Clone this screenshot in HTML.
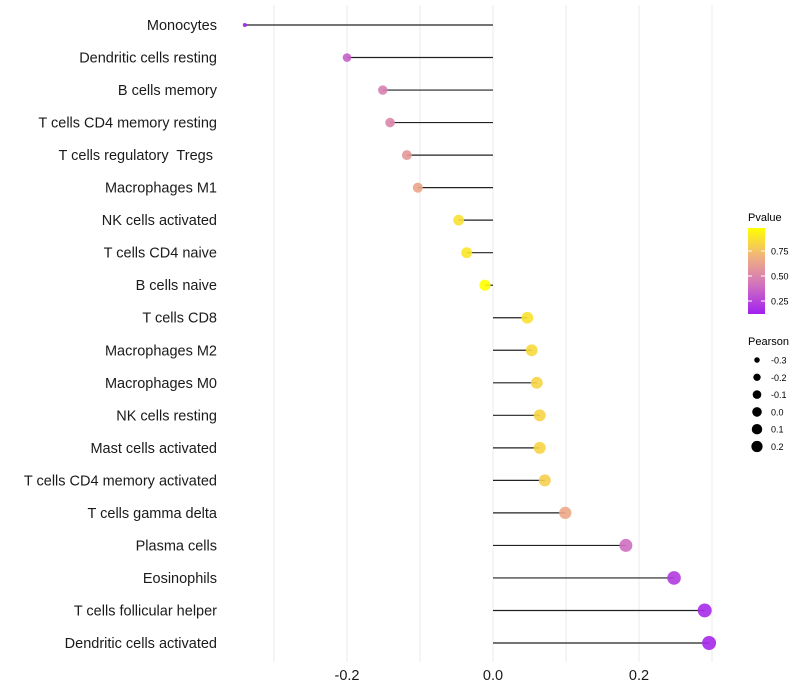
<!DOCTYPE html>
<html><head><meta charset="utf-8"><style>
body{margin:0;background:#fff;font-family:"Liberation Sans",sans-serif}
svg{display:block}
text{white-space:pre}
</style></head><body>
<svg id="chart" width="800" height="700"></svg>
<script>
const categories=["Monocytes","Dendritic cells resting","B cells memory","T cells CD4 memory resting","T cells regulatory  Tregs ","Macrophages M1","NK cells activated","T cells CD4 naive","B cells naive","T cells CD8","Macrophages M2","Macrophages M0","NK cells resting","Mast cells activated","T cells CD4 memory activated","T cells gamma delta","Plasma cells","Eosinophils","T cells follicular helper","Dendritic cells activated"];
const pearson=[-0.340,-0.200,-0.151,-0.141,-0.118,-0.103,-0.047,-0.036,-0.011,0.047,0.053,0.060,0.064,0.064,0.071,0.099,0.182,0.248,0.290,0.296];
const pvalue=[0.12,0.35,0.47,0.50,0.58,0.64,0.86,0.89,0.98,0.87,0.84,0.82,0.82,0.82,0.80,0.65,0.40,0.22,0.16,0.15];
const xTicks=[-0.2,0.0,0.2];
const xGrid=[-0.3,-0.2,-0.1,0,0.1,0.2,0.3];
const legendP=[0.75,0.50,0.25];
const legendR=[-0.3,-0.2,-0.1,0.0,0.1,0.2];
const NS="http://www.w3.org/2000/svg";
const svg=document.getElementById('chart');
function el(t,a,p){const e=document.createElementNS(NS,t);for(const k in a)e.setAttribute(k,a[k]);(p||svg).appendChild(e);return e;}
const x=v=>493+v*730;
const y=i=>25+i*(618/19);
const pMin=0.12,pMax=0.98;
const stops=[[0,[160,32,240]],[0.33,[208,112,192]],[0.66,[240,176,128]],[1,[255,255,0]]];
function col(p){let t=(p-pMin)/(pMax-pMin);t=Math.max(0,Math.min(1,t));for(let i=1;i<stops.length;i++){if(t<=stops[i][0]){const a=stops[i-1],b=stops[i];const f=(t-a[0])/(b[0]-a[0]);const c=a[1].map((v,j)=>Math.round(v+(b[1][j]-v)*f));return `rgb(${c})`;}}return 'rgb(255,255,0)';}
const rad=v=>2+5*Math.sqrt(Math.max(0,(v+0.34)/0.64));
xGrid.forEach(v=>{const g=el('line',{x1:x(v),x2:x(v),y1:5,y2:662,stroke:'#ebebeb','stroke-width':1});

});
categories.forEach((c,i)=>{
const t=el('text',{x:217,y:y(i)+5,'text-anchor':'end','font-size':14.5,fill:'#1a1a1a'});t.textContent=c;


const l=el('line',{x1:x(0),x2:x(pearson[i]),y1:y(i),y2:y(i),stroke:'#222','stroke-width':1.2});


const d=el('circle',{cx:x(pearson[i]),cy:y(i),r:rad(pearson[i]),fill:col(pvalue[i]),'fill-opacity':0.9});


});
xTicks.forEach(v=>{const t=el('text',{x:x(v),y:680,'text-anchor':'middle','font-size':14.5,fill:'#1a1a1a'});t.textContent=v.toFixed(1);

});
const lt=el('text',{x:748,y:221,'font-size':11});lt.textContent='Pvalue';


const defs=el('defs',{});const lg=el('linearGradient',{id:'gr',x1:0,y1:1,x2:0,y2:0},defs);
stops.forEach(s=>el('stop',{offset:s[0],'stop-color':`rgb(${s[1]})`},lg));
const cb=el('rect',{x:748,y:228,width:17,height:86,fill:'url(#gr)'});


const py=p=>314-(p-pMin)/(pMax-pMin)*86;
legendP.forEach(p=>{el('line',{x1:748,x2:752,y1:py(p),y2:py(p),stroke:'#fff'});el('line',{x1:761,x2:765,y1:py(p),y2:py(p),stroke:'#fff'});
const t=el('text',{x:771,y:py(p)+3.5,'font-size':9});t.textContent=p.toFixed(2);

});
const st=el('text',{x:748,y:345,'font-size':11});st.textContent='Pearson';


legendR.forEach((v,i)=>{const cy=360+i*17.3;
const c=el('circle',{cx:757,cy:cy,r:rad(v)*0.85,fill:'#000'});


const t=el('text',{x:771,y:cy+3.5,'font-size':9});t.textContent=v.toFixed(1);

});
</script>
</body></html>
